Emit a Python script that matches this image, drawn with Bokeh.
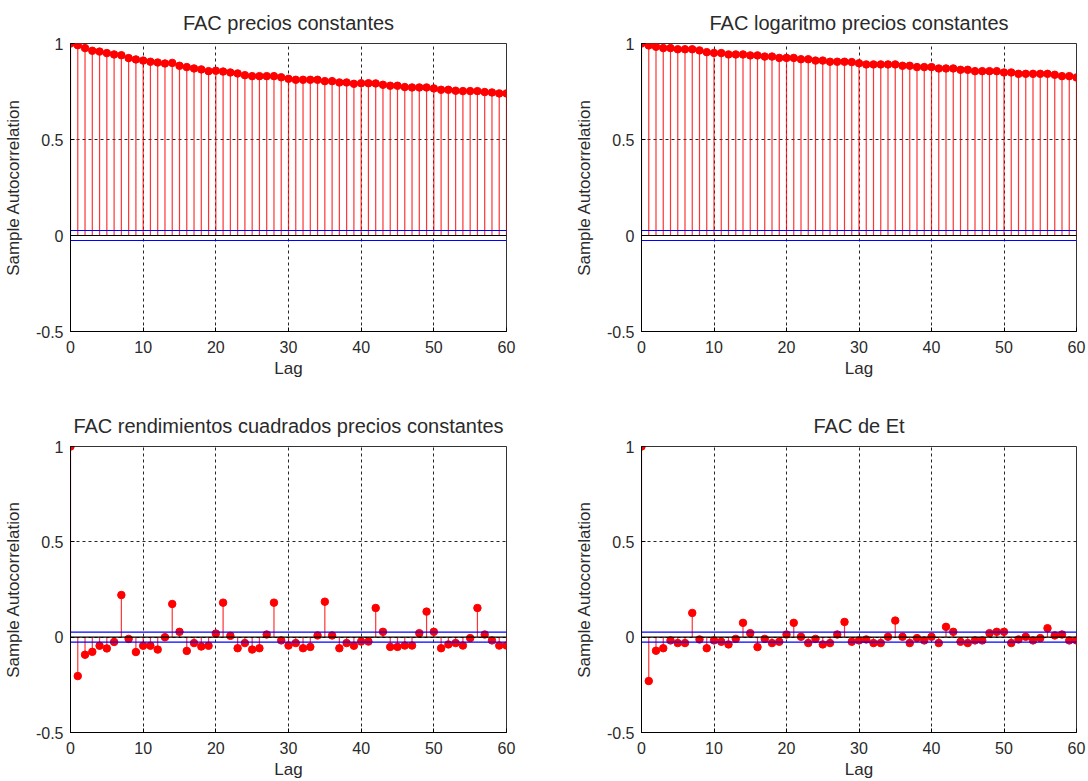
from bokeh.plotting import figure
from bokeh.layouts import column, row
from bokeh.models import Range1d, Span, FixedTicker
from bokeh.embed import file_html
from bokeh.resources import INLINE

lags = list(range(61))

acf_precios = [1.0, 0.991, 0.976, 0.962, 0.958, 0.950, 0.943, 0.939, 0.924, 0.917,
               0.911, 0.905, 0.901, 0.896, 0.899, 0.884, 0.877, 0.870, 0.865, 0.856,
               0.858, 0.854, 0.849, 0.844, 0.835, 0.830, 0.830, 0.830, 0.830, 0.824,
               0.816, 0.811, 0.811, 0.811, 0.811, 0.804, 0.804, 0.797, 0.797, 0.790,
               0.793, 0.793, 0.792, 0.785, 0.780, 0.780, 0.773, 0.771, 0.771, 0.771,
               0.766, 0.759, 0.759, 0.754, 0.752, 0.752, 0.752, 0.747, 0.745, 0.740,
               0.740]

acf_log = [1.0, 0.990, 0.983, 0.976, 0.976, 0.970, 0.970, 0.970, 0.964, 0.955,
           0.951, 0.950, 0.943, 0.943, 0.943, 0.938, 0.938, 0.932, 0.932, 0.925,
           0.925, 0.925, 0.918, 0.918, 0.911, 0.911, 0.905, 0.905, 0.905, 0.903,
           0.897, 0.891, 0.891, 0.891, 0.891, 0.891, 0.884, 0.884, 0.877, 0.877,
           0.877, 0.870, 0.870, 0.870, 0.863, 0.863, 0.856, 0.856, 0.856, 0.856,
           0.849, 0.849, 0.842, 0.842, 0.842, 0.842, 0.842, 0.837, 0.830, 0.830,
           0.823]

acf_rend2 = [1.0, -0.204, -0.092, -0.077, -0.045, -0.059, -0.025, 0.221, -0.009, -0.078,
             -0.045, -0.045, -0.065, 0.0, 0.174, 0.028, -0.072, -0.031, -0.049, -0.045,
             0.019, 0.181, 0.007, -0.058, -0.031, -0.065, -0.058, 0.014, 0.181, -0.017,
             -0.044, -0.031, -0.058, -0.051, 0.009, 0.186, 0.009, -0.058, -0.031, -0.045,
             -0.023, -0.023, 0.153, 0.028, -0.051, -0.051, -0.044, -0.044, 0.021, 0.134,
             0.028, -0.058, -0.038, -0.031, -0.044, -0.005, 0.153, 0.014, -0.017, -0.044,
             -0.044]

acf_et = [1.0, -0.230, -0.071, -0.058, -0.017, -0.031, -0.031, 0.127, -0.012, -0.058,
          -0.017, -0.024, -0.038, -0.009, 0.075, 0.021, -0.052, -0.009, -0.031, -0.024,
          0.014, 0.075, 0.002, -0.031, -0.009, -0.038, -0.031, 0.014, 0.080, -0.024,
          -0.017, -0.012, -0.031, -0.031, 0.002, 0.087, 0.002, -0.031, -0.005, -0.017,
          0.002, -0.031, 0.054, 0.028, -0.024, -0.031, -0.017, -0.017, 0.021, 0.028,
          0.028, -0.031, -0.012, 0.002, -0.017, -0.005, 0.047, 0.009, 0.014, -0.017,
          -0.017]

conf_bound = 0.026
titles = ["FAC precios constantes", "FAC logaritmo precios constantes",
          "FAC rendimientos cuadrados precios constantes", "FAC de Et"]
x_ticks = [0, 10, 20, 30, 40, 50, 60]
y_ticks = [-0.5, 0, 0.5, 1]
y_tick_labels = {-0.5: "-0.5", 0: "0", 0.5: "0.5", 1: "1"}

FONT = "Liberation Sans"
TEXT = "#2a2a2a"


def make(title, vals, width, height, left, right, top, bottom):
    p = figure(width=width, height=height, output_backend="svg", toolbar_location=None,
               x_range=Range1d(0, 60), y_range=Range1d(-0.5, 1),
               min_border_left=left, min_border_right=right,
               min_border_top=top, min_border_bottom=bottom,
               background_fill_color="white", border_fill_color="white")
    p.title.text = title
    p.title.align = "center"
    p.title.text_font = FONT
    p.title.text_font_size = "20px"
    p.title.text_font_style = "normal"
    p.title.text_color = TEXT
    p.title.standoff = 19
    p.outline_line_color = "black"
    p.outline_line_width = 1
    p.outline_line_alpha = 0.8

    for ax in (p.xaxis[0], p.yaxis[0]):
        ax.axis_line_color = "black"
        ax.major_tick_in = 4
        ax.major_tick_out = 0
        ax.minor_tick_line_color = None
        ax.major_label_text_font = FONT
        ax.major_label_text_font_size = "16px"
        ax.major_label_text_color = TEXT
        ax.axis_label_text_font = FONT
        ax.axis_label_text_font_size = "17px"
        ax.axis_label_text_font_style = "normal"
        ax.axis_label_text_color = TEXT
    p.xaxis.ticker = FixedTicker(ticks=x_ticks)
    p.yaxis.ticker = FixedTicker(ticks=y_ticks)
    p.yaxis.major_label_overrides = y_tick_labels
    p.xaxis.axis_label = "Lag"
    p.yaxis.axis_label = "Sample Autocorrelation"
    p.xaxis.major_label_standoff = 9
    p.xaxis.axis_label_standoff = 3
    p.yaxis.major_label_standoff = 7
    p.yaxis.axis_label_standoff = 10

    for g in (p.xgrid[0], p.ygrid[0]):
        g.grid_line_color = "black"
        g.grid_line_dash = "3 3"
        g.grid_line_alpha = 0.85
        g.grid_line_width = 1

    p.segment(x0=lags, y0=[0] * len(lags), x1=lags, y1=vals,
              line_color="red", line_width=1.2, line_alpha=0.8)
    p.scatter(x=lags, y=vals, size=7.5, marker="circle",
              fill_color="red", line_color="red")
    p.add_layout(Span(location=0, dimension="width", line_color="black", line_width=1.2))
    p.add_layout(Span(location=conf_bound, dimension="width", line_color="blue", line_width=1.2))
    p.add_layout(Span(location=-conf_bound, dimension="width", line_color="blue", line_width=1.2))
    return p


p1 = make(titles[0], acf_precios, 544, 390, 70, 38, 43, 59)
p2 = make(titles[1], acf_log, 544, 390, 97, 12, 43, 59)
p3 = make(titles[2], acf_rend2, 544, 391, 70, 38, 56, 48)
p4 = make(titles[3], acf_et, 544, 391, 97, 12, 56, 48)

layout = column(row(p1, p2), row(p3, p4))
open("out.html", "w").write(file_html(layout, INLINE))
